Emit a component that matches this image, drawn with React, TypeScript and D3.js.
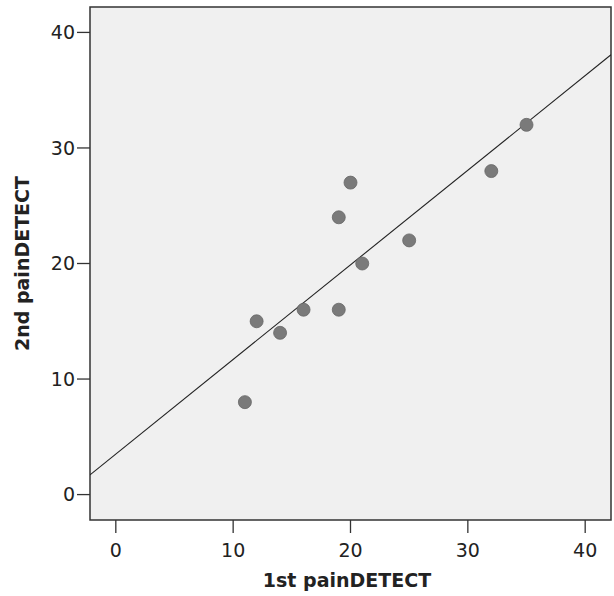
import React from "react";
import * as d3 from "d3";

// 1st vs 2nd painDETECT scores
const firstScore = [11, 12, 14, 16, 19, 19, 20, 21, 25, 32, 35];
const secondScore = [8, 15, 14, 16, 16, 24, 27, 20, 22, 28, 32];
const xTicks = [0, 10, 20, 30, 40];
const yTicks = [0, 10, 20, 30, 40];
const xTitle = "1st painDETECT";
const yTitle = "2nd painDETECT";

const W = 614;
const H = 596;
const frame = { left: 90, right: 611, top: 7, bottom: 520 };
const font = "'DejaVu Sans', Verdana, sans-serif";

export default function App() {
  const x = d3.scaleLinear().domain([-2.2, 42.2]).range([frame.left, frame.right]);
  const y = d3.scaleLinear().domain([-2.2, 42.2]).range([frame.bottom, frame.top]);

  // least squares fit line
  const mx = d3.mean(firstScore)!;
  const my = d3.mean(secondScore)!;
  const sxy = d3.sum(firstScore, (v, i) => (v - mx) * (secondScore[i] - my));
  const sxx = d3.sum(firstScore, (v) => (v - mx) * (v - mx));
  const slope = sxy / sxx;
  const icpt = my - slope * mx;
  const [x0, x1] = x.domain();
  const fit = d3.line<number>()
    .x((d) => x(d))
    .y((d) => y(icpt + slope * d))([x0, x1]);

  return (
    <svg width={W} height={H} style={{ position: "absolute", left: 0, top: 0 }}>
      <rect width={W} height={H} fill="#fff" />
      <rect
        x={frame.left}
        y={frame.top}
        width={frame.right - frame.left}
        height={frame.bottom - frame.top}
        fill="#f0f0f0"
        stroke="#333"
        strokeWidth={1.5}
      />
      <clipPath id="plotclip">
        <rect x={frame.left} y={frame.top} width={frame.right - frame.left} height={frame.bottom - frame.top} />
      </clipPath>
      <path d={fit ?? ""} stroke="#222" strokeWidth={1.1} fill="none" clipPath="url(#plotclip)" />
      {firstScore.map((v, i) => (
        <circle key={i} cx={x(v)} cy={y(secondScore[i])} r={6.5} fill="#7a7a7a" stroke="#666" strokeWidth={0.8} />
      ))}

      {xTicks.map((t) => (
        <g key={"x" + t}>
          <line x1={x(t)} x2={x(t)} y1={frame.bottom} y2={frame.bottom + 13} stroke="#333" strokeWidth={1.3} />
          <text x={x(t)} y={frame.bottom + 37} textAnchor="middle" fontFamily={font} fontSize={19} fill="#222">
            {t}
          </text>
        </g>
      ))}
      {yTicks.map((t) => (
        <g key={"y" + t}>
          <line x1={frame.left - 13} x2={frame.left} y1={y(t)} y2={y(t)} stroke="#333" strokeWidth={1.3} />
          <text x={frame.left - 15} y={y(t)} dy="0.36em" textAnchor="end" fontFamily={font} fontSize={19} fill="#222">
            {t}
          </text>
        </g>
      ))}

      <text x={347} y={587} textAnchor="middle" fontFamily={font} fontWeight="bold" fontSize={19} fill="#222">
        {xTitle}
      </text>
      <text
        transform={`translate(29,${(frame.top + frame.bottom) / 2}) rotate(-90)`}
        textAnchor="middle"
        fontFamily={font}
        fontWeight="bold"
        fontSize={19}
        fill="#222"
      >
        {yTitle}
      </text>
    </svg>
  );
}
